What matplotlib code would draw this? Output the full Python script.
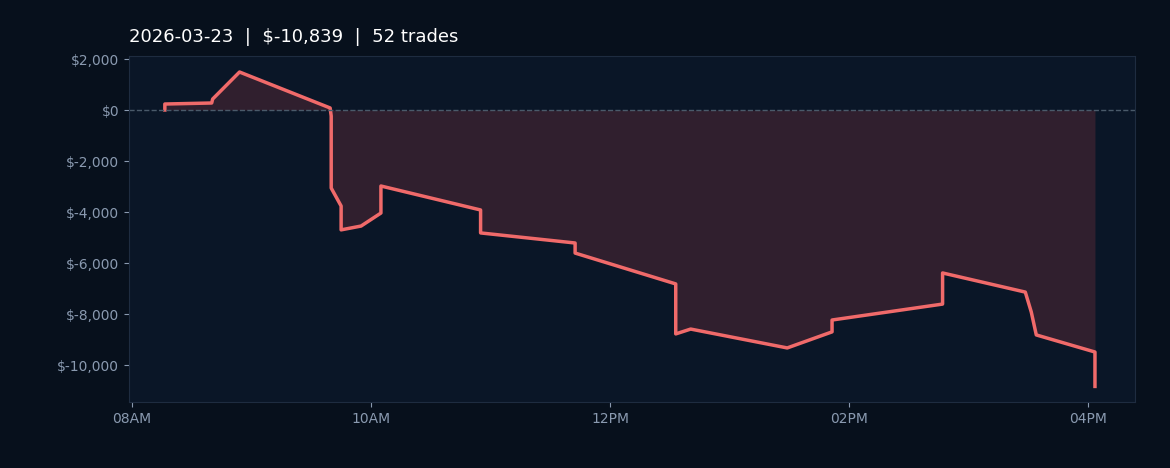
import matplotlib
matplotlib.use("Agg")
import matplotlib.pyplot as plt
import matplotlib.dates as mdates
from datetime import datetime, timedelta

hours = [8.275, 8.275, 8.667, 8.675, 8.9, 9.658, 9.667, 9.667, 9.75, 9.75, 9.917, 10.083, 10.083,
         10.917, 10.917, 11.708, 11.708, 12.55, 12.55, 12.675, 13.483, 13.858, 13.858, 14.783,
         14.783, 15.475, 15.525, 15.567, 16.058, 16.058]
pnl = [0, 235, 275, 430, 1490, 80, -235, -3060, -3765, -4700, -4550, -4040, -2980,
       -3920, -4820, -5215, -5610, -6820, -8780, -8590, -9330, -8700, -8235, -7610,
       -6390, -7140, -7920, -8820, -9490, -10839]

base = datetime(2026, 3, 23)
times = [base + timedelta(hours=h) for h in hours]

fig = plt.figure(figsize=(11.7, 4.68), dpi=100, facecolor="#07101c")
ax = fig.add_axes([129/1170, 66/468, 1006/1170, 346/468])
ax.set_facecolor("#0a1627")
ax.fill_between(times, pnl, 0, color="#3a2230", alpha=0.8, linewidth=0)
ax.plot(times, pnl, color="#f06a6a", linewidth=2.5)
ax.axhline(0, color="#4a5a6a", linestyle="--", linewidth=1)

ax.set_xlim(base + timedelta(hours=7.975), base + timedelta(hours=16.393))
ax.set_ylim(-11450, 2118)
ax.xaxis.set_major_locator(mdates.HourLocator(byhour=[8, 10, 12, 14, 16]))
ax.xaxis.set_major_formatter(mdates.DateFormatter("%I%p"))
ax.set_yticks(range(-10000, 2001, 2000))
ax.set_yticklabels([f"${v:,}" if v >= 0 else f"$-{-v:,}" for v in range(-10000, 2001, 2000)])
ax.tick_params(colors="#8a9ab0", labelsize=10)
for s in ax.spines.values():
    s.set_color("#1e2c40")
ax.set_title("2026-03-23  |  $-10,839  |  52 trades", color="white", loc="left", fontsize=13, pad=10)
fig.savefig("out.png", facecolor=fig.get_facecolor())
